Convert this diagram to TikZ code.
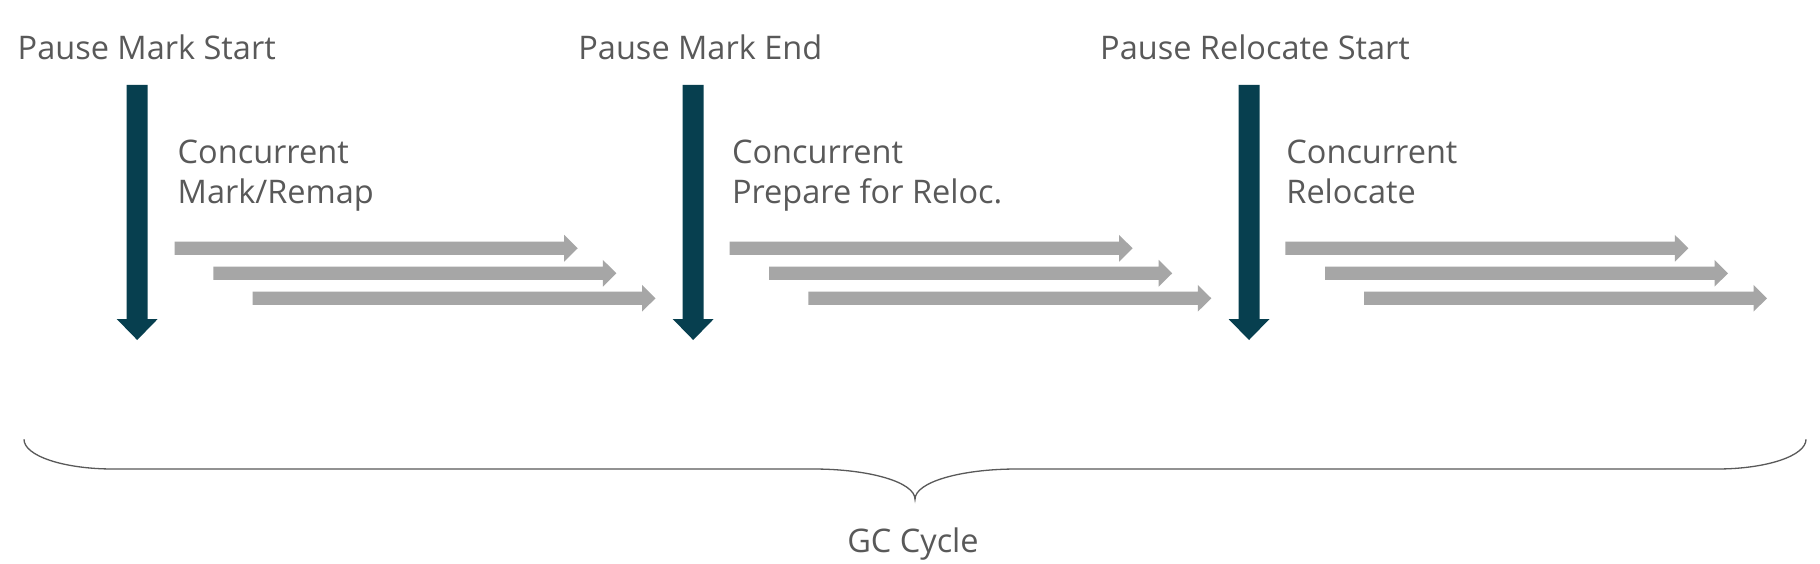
\documentclass[tikz,border=0pt]{standalone}
\usepackage{fontspec}
\setmainfont{Open Sans}
\definecolor{txtc}{HTML}{595959}
\definecolor{pausec}{HTML}{073F4F}
\definecolor{concc}{HTML}{A6A6A6}
\newcommand\pausearr[2]{% name, center x
  \fill[pausec] (#2-10.5,85) -- (#2+10.5,85) -- (#2+10.5,319) -- (#2+20.5,319)
    -- (#2,340) -- (#2-20.5,319) -- (#2-10.5,319) -- cycle;
  \coordinate (#1) at (#2,340);}
\newcommand\concarr[3]{% name, start x, center y
  \fill[concc] (#2,#3-6.65) -- (#2+389.5,#3-6.65) -- (#2+389.5,#3-13.35) -- (#2+403,#3)
    -- (#2+389.5,#3+13.35) -- (#2+389.5,#3+6.65) -- (#2,#3+6.65) -- cycle;
  \coordinate (#1) at (#2+403,#3);}
\begin{document}
\begin{tikzpicture}[x=1pt,y=-1pt,
  lbl/.style={anchor=base west,inner sep=0pt,text=txtc,font=\fontsize{32.5}{40}\selectfont},
  caplbl/.style={anchor=base,inner sep=0pt,text=txtc,font=\fontsize{32.5}{40}\selectfont},
  bracec/.style={draw=txtc,line width=1.3pt}]
\fill[white] (0,0) rectangle (1820,564);
\useasboundingbox (0,0) rectangle (1820,564);
% titles
\node[lbl] (t1) at (17.5,60) {Pause Mark Start};
\node[lbl] (t2) at (578.2,60) {Pause Mark End};
\node[lbl] (t3) at (1100,60) {Pause Relocate Start};
% concurrent labels
\node[lbl] (c1a) at (177.5,163.3) {Concurrent};
\node[lbl] (c1b) at (177.5,203.3) {Mark/Remap};
\node[lbl] (c2a) at (731.8,163.3) {Concurrent};
\node[lbl] (c2b) at (731.8,203.3) {Prepare for Reloc.};
\node[lbl] (c3a) at (1286.2,163.3) {Concurrent};
\node[lbl] (c3b) at (1286.2,203.3) {Relocate};
% pause arrows
\pausearr{p1}{137.2}
\pausearr{p2}{693.2}
\pausearr{p3}{1249}
% concurrent arrows
\concarr{a11}{174.7}{248.3}
\concarr{a12}{213.4}{273.3}
\concarr{a13}{252.5}{298.3}
\concarr{a21}{729.6}{248.3}
\concarr{a22}{769.2}{273.3}
\concarr{a23}{808.3}{298.3}
\concarr{a31}{1285.4}{248.3}
\concarr{a32}{1325}{273.3}
\concarr{a33}{1364}{298.3}
% brace
\coordinate (bl) at (24,439.3);
\coordinate (br) at (1806,439.3);
\coordinate (bt) at (915,499.3);
\draw[bracec] (bl) .. controls (24,456) and (64,469) .. (113,469) -- (813,469)
  .. controls (869,469) and (915,482) .. (bt)
  .. controls (915,482) and (961,469) .. (1017,469) -- (1717,469)
  .. controls (1766,469) and (1806,456) .. (br);
\node[caplbl] (gc) at (913,552.7) {GC Cycle};
\end{tikzpicture}
\end{document}
